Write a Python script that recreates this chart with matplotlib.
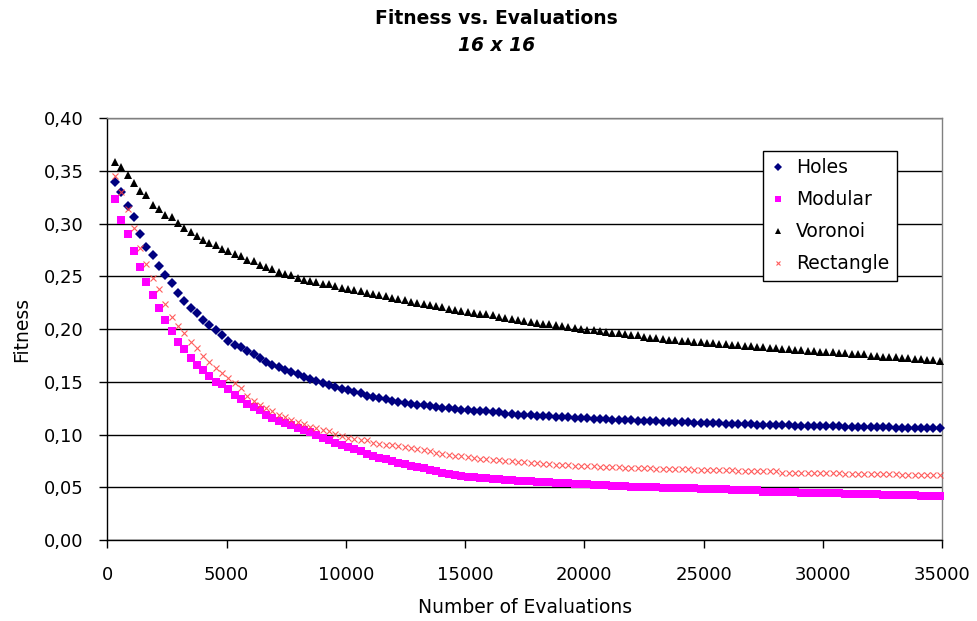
import numpy as np
import matplotlib
matplotlib.use("Agg")
import matplotlib.pyplot as plt
from matplotlib.ticker import FuncFormatter

plt.rcParams['font.family'] = ['DejaVu Sans']

# Evaluation counts at which fitness was sampled
evaluations = 323 + 264 * np.arange(132)

holes = [
    0.340, 0.330, 0.317, 0.306, 0.290, 0.278, 0.270, 0.260, 0.251, 0.244,
    0.234, 0.227, 0.220, 0.215, 0.209, 0.204, 0.199, 0.194, 0.189, 0.185,
    0.183, 0.179, 0.176, 0.173, 0.169, 0.166, 0.164, 0.161, 0.159, 0.157,
    0.155, 0.153, 0.151, 0.149, 0.147, 0.145, 0.143, 0.142, 0.140, 0.139,
    0.137, 0.136, 0.135, 0.134, 0.132, 0.131, 0.130, 0.129, 0.128, 0.128,
    0.127, 0.126, 0.125, 0.125, 0.124, 0.123, 0.123, 0.122, 0.122, 0.122,
    0.121, 0.121, 0.120, 0.120, 0.119, 0.119, 0.119, 0.118, 0.118, 0.118,
    0.117, 0.117, 0.117, 0.116, 0.116,
    0.116, 0.115, 0.115, 0.115, 0.114, 0.114, 0.114, 0.114, 0.113, 0.113,
    0.113, 0.113, 0.112, 0.112, 0.112, 0.112, 0.112, 0.111, 0.111, 0.111,
    0.111, 0.111, 0.110, 0.110, 0.110, 0.110, 0.110, 0.109, 0.109, 0.109,
    0.109, 0.109, 0.109, 0.108, 0.108, 0.108, 0.108, 0.108, 0.108,
    0.108, 0.108, 0.107, 0.107, 0.107, 0.107, 0.107, 0.107, 0.107, 0.107,
    0.106, 0.106, 0.106, 0.106, 0.106, 0.106, 0.106, 0.106,
]

modular = [
    0.323, 0.304, 0.290, 0.274, 0.259, 0.245, 0.232, 0.220, 0.209, 0.198,
    0.188, 0.181, 0.173, 0.166, 0.161, 0.156, 0.150, 0.148, 0.143, 0.138,
    0.134, 0.129, 0.126, 0.123, 0.119, 0.116, 0.113, 0.111, 0.109, 0.106,
    0.104, 0.102, 0.100, 0.097, 0.095, 0.092, 0.090, 0.088, 0.086, 0.084,
    0.082, 0.080, 0.078, 0.077, 0.075, 0.073, 0.072, 0.070, 0.069, 0.068,
    0.066, 0.065, 0.064, 0.063, 0.062, 0.061, 0.060, 0.060, 0.059, 0.059,
    0.058, 0.058, 0.057, 0.057, 0.056, 0.056, 0.056, 0.055, 0.055, 0.055,
    0.054, 0.054, 0.054, 0.053, 0.053,
    0.053, 0.052, 0.052, 0.052, 0.051, 0.051, 0.051, 0.050, 0.050, 0.050,
    0.050, 0.050, 0.049, 0.049, 0.049, 0.049, 0.049, 0.049, 0.048, 0.048,
    0.048, 0.048, 0.048, 0.047, 0.047, 0.047, 0.047, 0.047, 0.046, 0.046,
    0.046, 0.046, 0.046, 0.046, 0.045, 0.045, 0.045, 0.045, 0.045,
    0.045, 0.045, 0.044, 0.044, 0.044, 0.044, 0.044, 0.044, 0.043, 0.043,
    0.043, 0.043, 0.043, 0.043, 0.042, 0.042, 0.042, 0.042,
]

voronoi = [
    0.359, 0.354, 0.346, 0.339, 0.331, 0.327, 0.318, 0.314, 0.308, 0.306,
    0.301, 0.296, 0.292, 0.288, 0.285, 0.282, 0.280, 0.276, 0.274, 0.271,
    0.269, 0.266, 0.265, 0.261, 0.259, 0.257, 0.254, 0.252, 0.251, 0.249,
    0.247, 0.246, 0.245, 0.243, 0.243, 0.241, 0.239,
    0.238, 0.237, 0.236, 0.234, 0.233, 0.232, 0.231, 0.230, 0.229, 0.228,
    0.226, 0.225, 0.224, 0.223, 0.222, 0.221, 0.219, 0.218, 0.217,
    0.216, 0.215, 0.214, 0.214, 0.213, 0.212, 0.211, 0.210, 0.209, 0.208,
    0.207, 0.206, 0.205, 0.205, 0.204, 0.203, 0.202, 0.201, 0.200,
    0.199, 0.199, 0.198, 0.197, 0.196, 0.196, 0.195, 0.194, 0.194, 0.193,
    0.192, 0.192, 0.191, 0.190, 0.190, 0.189, 0.189, 0.188, 0.188, 0.187,
    0.187, 0.186, 0.186, 0.185, 0.185, 0.184, 0.184, 0.183, 0.183, 0.182,
    0.182, 0.181, 0.181, 0.180, 0.180, 0.179, 0.179, 0.178, 0.178,
    0.178, 0.177, 0.177, 0.176, 0.176, 0.176, 0.175, 0.175, 0.174, 0.174,
    0.174, 0.173, 0.173, 0.172, 0.172, 0.171, 0.171, 0.170,
]

rectangle = [
    0.345, 0.330, 0.314, 0.296, 0.277, 0.262, 0.249, 0.238, 0.224, 0.212,
    0.203, 0.196, 0.188, 0.182, 0.175, 0.169, 0.163, 0.158, 0.154, 0.149,
    0.144, 0.137, 0.132, 0.128, 0.125, 0.122, 0.119, 0.117, 0.114, 0.112,
    0.110, 0.107, 0.106, 0.104, 0.103, 0.101, 0.099, 0.097, 0.096, 0.095,
    0.095, 0.092, 0.091, 0.090, 0.090, 0.089, 0.088, 0.087, 0.086, 0.085,
    0.084, 0.083, 0.082, 0.081, 0.080, 0.080, 0.079, 0.078, 0.077, 0.077,
    0.076, 0.076, 0.075, 0.075, 0.074, 0.074, 0.073, 0.073, 0.072, 0.072,
    0.071, 0.071, 0.071, 0.070, 0.070,
    0.070, 0.070, 0.069, 0.069, 0.069, 0.069, 0.068, 0.068, 0.068, 0.068,
    0.068, 0.067, 0.067, 0.067, 0.067, 0.067, 0.067, 0.066, 0.066, 0.066,
    0.066, 0.066, 0.066, 0.066, 0.065, 0.065, 0.065, 0.065, 0.065, 0.065,
    0.065, 0.064, 0.064, 0.064, 0.064, 0.064, 0.064, 0.064, 0.064,
    0.064, 0.064, 0.063, 0.063, 0.063, 0.063, 0.063, 0.063, 0.063, 0.063,
    0.063, 0.062, 0.062, 0.062, 0.062, 0.062, 0.062, 0.062,
]

x_ticks = [0, 5000, 10000, 15000, 20000, 25000, 30000, 35000]
y_ticks = [0.00, 0.05, 0.10, 0.15, 0.20, 0.25, 0.30, 0.35, 0.40]

fig = plt.figure(figsize=(9.78, 6.21), dpi=100)
ax = fig.add_axes([0.1097, 0.1304, 0.8535, 0.6791])

ax.plot(evaluations, holes, linestyle='none', marker='D', markersize=5.2,
        color='#000080', markeredgewidth=0, label='Holes', clip_on=False, zorder=3)
ax.plot(evaluations, modular, linestyle='none', marker='s', markersize=5.4,
        color='#ff00ff', markeredgewidth=0, label='Modular', clip_on=False, zorder=3)
ax.plot(evaluations, voronoi, linestyle='none', marker='^', markersize=6.4,
        color='black', markeredgewidth=0, label='Voronoi', clip_on=False, zorder=3)
ax.plot(evaluations, rectangle, linestyle='none', marker='x', markersize=4.4,
        color='#ff4040', markeredgewidth=0.8, label='Rectangle', clip_on=False,
        zorder=4, alpha=0.85)

ax.set_xlim(0, 35000)
ax.set_ylim(0, 0.40)
ax.set_xticks(x_ticks)
ax.set_yticks(y_ticks)
ax.yaxis.set_major_formatter(FuncFormatter(lambda v, _: f"{v:.2f}".replace('.', ',')))
ax.xaxis.set_major_formatter(FuncFormatter(lambda v, _: f"{int(round(v))}"))

ax.grid(axis='y', color='black', linewidth=1.0)
ax.set_axisbelow(True)
ax.tick_params(axis='x', direction='out', length=5.5, width=1, labelsize=13,
               pad=13, colors='black')
ax.tick_params(axis='y', direction='out', length=5.5, width=1, labelsize=13,
               pad=11.5, colors='black')
for side in ('left', 'bottom'):
    ax.spines[side].set_color('black')
    ax.spines[side].set_linewidth(1.0)
for side in ('top', 'right'):
    ax.spines[side].set_color('#808080')
    ax.spines[side].set_linewidth(1.0)

ax.set_xlabel('Number of Evaluations', fontsize=13.5, labelpad=10)
ax.set_ylabel('Fitness', fontsize=13.5, labelpad=9)

fig.text(0.508, 0.970, 'Fitness vs. Evaluations', ha='center', va='center',
         fontsize=13.5, fontweight='bold')
fig.text(0.508, 0.927, '16 x 16', ha='center', va='center',
         fontsize=13.5, fontweight='bold', fontstyle='italic')

leg = ax.legend(loc='upper left', bbox_to_anchor=(0.7855, 0.9225),
                frameon=True, fancybox=False, shadow=False, fontsize=13.5,
                markerscale=0.7, handlelength=0.8, handletextpad=0.6,
                labelspacing=0.7, borderpad=0.38, borderaxespad=0.0)
leg.get_frame().set_edgecolor('black')
leg.get_frame().set_linewidth(1.0)
leg.get_frame().set_facecolor('white')
leg.get_frame().set_alpha(1.0)

fig.savefig('out.png', dpi=100, facecolor='white')
